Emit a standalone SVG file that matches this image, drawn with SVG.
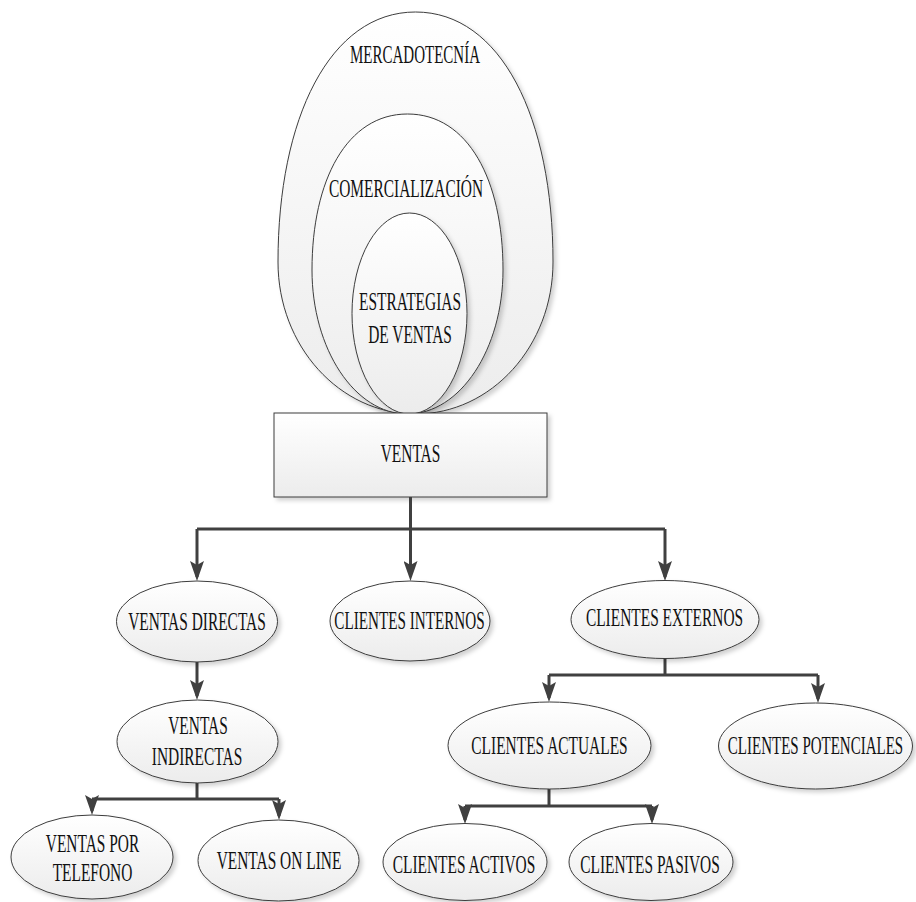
<svg xmlns="http://www.w3.org/2000/svg" width="916" height="902" viewBox="0 0 916 902">
<style>
.shape{fill:url(#g);stroke:#3c3c3c;stroke-width:1;filter:url(#sh)}
.conn{fill:none;stroke:#404040;stroke-width:3;marker-end:url(#ah)}
.line{fill:none;stroke:#404040;stroke-width:3}
text{font-family:"Liberation Serif","Times New Roman",serif;font-size:25px;fill:#111;text-anchor:middle}
</style>
<defs>
<linearGradient id="g" x1="0" y1="0" x2="0" y2="1">
<stop offset="0" stop-color="#ffffff"/>
<stop offset="1" stop-color="#ececec"/>
</linearGradient>
<filter id="sh" x="-10%" y="-10%" width="125%" height="125%">
<feGaussianBlur in="SourceAlpha" stdDeviation="2"/>
<feOffset dx="3" dy="3" result="b"/>
<feFlood flood-color="#000" flood-opacity="0.18"/>
<feComposite in2="b" operator="in"/>
<feMerge><feMergeNode/><feMergeNode in="SourceGraphic"/></feMerge>
</filter>
<marker id="ah" viewBox="0 0 20 14" refX="16" refY="7" markerWidth="20" markerHeight="14" markerUnits="userSpaceOnUse" orient="auto">
<path d="M0,0 L20,7 L0,14 L4,7 Z" fill="#404040"/>
</marker>
</defs>

<g id="mercadotecnia">
<path class="shape" d="M278,262 C278,118 330,12 415.5,12 C501,12 553,118 553,262 C553,346 491.4,414 415.5,414 C339.6,414 278,346 278,262 Z"/>
<text transform="translate(415,63) scale(0.6,1)">MERCADOTECNÍA</text>
</g>
<g id="comercializacion">
<path class="shape" d="M312,270 C312,180 347,114 407.5,114 C468,114 503,180 503,270 C503,349 460.2,414 407.5,414 C354.8,414 312,349 312,270 Z"/>
<text transform="translate(406,197) scale(0.617,1)">COMERCIALIZACIÓN</text>
</g>
<g id="estrategias">
<ellipse class="shape" cx="409.5" cy="313.5" rx="57.5" ry="100.5"/>
<text transform="translate(410,310) scale(0.617,1)">ESTRATEGIAS</text>
<text transform="translate(410,343) scale(0.617,1)">DE VENTAS</text>
</g>
<g id="ventas">
<rect class="shape" x="274" y="413" width="273" height="84"/>
<text transform="translate(410.5,462) scale(0.617,1)">VENTAS</text>
</g>

<g id="connectors">
<path class="conn" d="M410.5,497 V577"/>
<path class="line" d="M197,529 H665"/>
<path class="conn" d="M197,529 V577"/>
<path class="conn" d="M665,529 V577"/>
<path class="conn" d="M197,662 V696"/>
<path class="line" d="M197,783 V799"/>
<path class="line" d="M92,799 H279"/>
<path class="conn" d="M92,799 V811"/>
<path class="conn" d="M279,799 V816"/>
<path class="line" d="M665,658 V675"/>
<path class="line" d="M549,675 H818"/>
<path class="conn" d="M549,675 V698"/>
<path class="conn" d="M818,675 V699"/>
<path class="line" d="M549,789 V806"/>
<path class="line" d="M465,806 H652"/>
<path class="conn" d="M465,806 V820"/>
<path class="conn" d="M652,806 V820"/>
</g>

<g id="ventas-directas">
<ellipse class="shape" cx="197" cy="621.5" rx="80.5" ry="40.5"/>
<text transform="translate(197,630) scale(0.617,1)">VENTAS DIRECTAS</text>
</g>
<g id="clientes-internos">
<ellipse class="shape" cx="410" cy="621" rx="80" ry="40"/>
<text transform="translate(409.5,629) scale(0.607,1)">CLIENTES INTERNOS</text>
</g>
<g id="clientes-externos">
<ellipse class="shape" cx="665" cy="619.5" rx="94" ry="39"/>
<text transform="translate(664.5,626) scale(0.617,1)">CLIENTES EXTERNOS</text>
</g>
<g id="ventas-indirectas">
<ellipse class="shape" cx="197.5" cy="741.5" rx="80.5" ry="41.5"/>
<text transform="translate(198,734) scale(0.617,1)">VENTAS</text>
<text transform="translate(197,765) scale(0.617,1)">INDIRECTAS</text>
</g>
<g id="ventas-telefono">
<ellipse class="shape" cx="92" cy="857" rx="81" ry="42"/>
<text transform="translate(92.5,852) scale(0.617,1)">VENTAS POR</text>
<text transform="translate(92.5,881) scale(0.617,1)">TELEFONO</text>
</g>
<g id="ventas-online">
<ellipse class="shape" cx="278.5" cy="860.5" rx="80.5" ry="40.5"/>
<text transform="translate(279,869) scale(0.617,1)">VENTAS ON LINE</text>
</g>
<g id="clientes-actuales">
<ellipse class="shape" cx="549.5" cy="745.5" rx="101.5" ry="43.5"/>
<text transform="translate(549.5,754) scale(0.617,1)">CLIENTES ACTUALES</text>
</g>
<g id="clientes-potenciales">
<ellipse class="shape" cx="815.5" cy="746" rx="97" ry="43"/>
<text transform="translate(815.5,754) scale(0.6,1)">CLIENTES POTENCIALES</text>
</g>
<g id="clientes-activos">
<ellipse class="shape" cx="465" cy="862" rx="82" ry="38.5"/>
<text transform="translate(464,873) scale(0.617,1)">CLIENTES ACTIVOS</text>
</g>
<g id="clientes-pasivos">
<ellipse class="shape" cx="651" cy="862" rx="82" ry="38.5"/>
<text transform="translate(650,873) scale(0.617,1)">CLIENTES PASIVOS</text>
</g>
</svg>
